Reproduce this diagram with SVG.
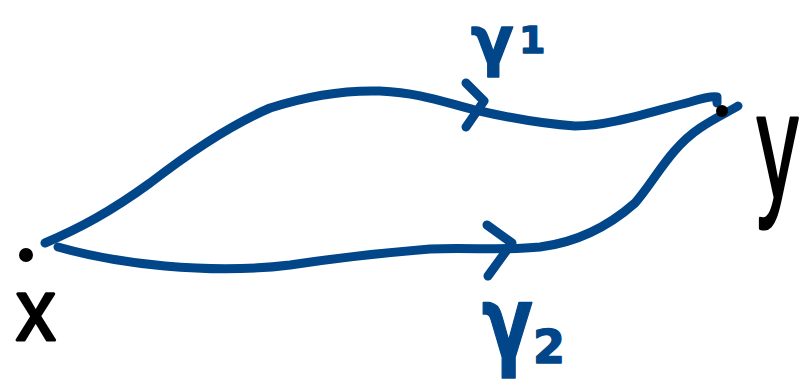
<svg xmlns="http://www.w3.org/2000/svg" width="799" height="380" viewBox="0 0 799 380">
<style>
.c{fill:none;stroke:#02468a;stroke-width:9;stroke-linecap:round;stroke-linejoin:round}
.b{fill:#000}
.lb{font-family:"DejaVu Sans",sans-serif;font-weight:bold;fill:#02468a;stroke:#02468a;stroke-width:1.5;stroke-linejoin:round}
.lk{font-family:"Liberation Sans",sans-serif;fill:#000;stroke:#000;stroke-width:3;stroke-linejoin:round}
</style>
<rect width="799" height="380" fill="#fff"/>
<g id="connectors">
<path id="gamma1" class="c" d="M45,243 C80,228 110,212 150,183 C190,152 230,125 270,108 C310,95 345,90 380,91 C420,93 440,101 475,110 C510,118 545,124 575,126 C610,126 650,112 690,102 C700,99 712,96 717,97 L717,103"/>
<path id="gamma2" class="c" d="M58,247 C90,256 120,262 165,266 C210,270 250,270 290,265 C330,259 380,253 430,249 C470,247 500,251 540,247 C580,242 610,225 635,203 C655,180 670,148 700,128 C715,118 728,112 738,106"/>
<path class="c" d="M466,83 L484,101 L466,127"/>
<path class="c" d="M487,225 L512,243 L488,276"/>
</g>
<g id="x">
<circle class="b" cx="26" cy="255" r="7"/>
<text class="lk" transform="translate(16,340) scale(0.9,1)" font-size="88">x</text>
</g>
<g id="y">
<circle class="b" cx="722" cy="111" r="6"/>
<text class="lk" transform="translate(757,198) scale(0.55,1)" font-size="150">y</text>
</g>
<g id="label1">
<text class="lb" transform="translate(471,63) scale(0.95,1)" font-size="66">γ</text>
<text class="lb" x="519" y="53" font-size="38">1</text>
</g>
<g id="label2">
<text class="lb" transform="translate(482,357) scale(0.75,1)" font-size="100">γ</text>
<text class="lb" x="533" y="363" font-size="46">2</text>
</g>
</svg>
